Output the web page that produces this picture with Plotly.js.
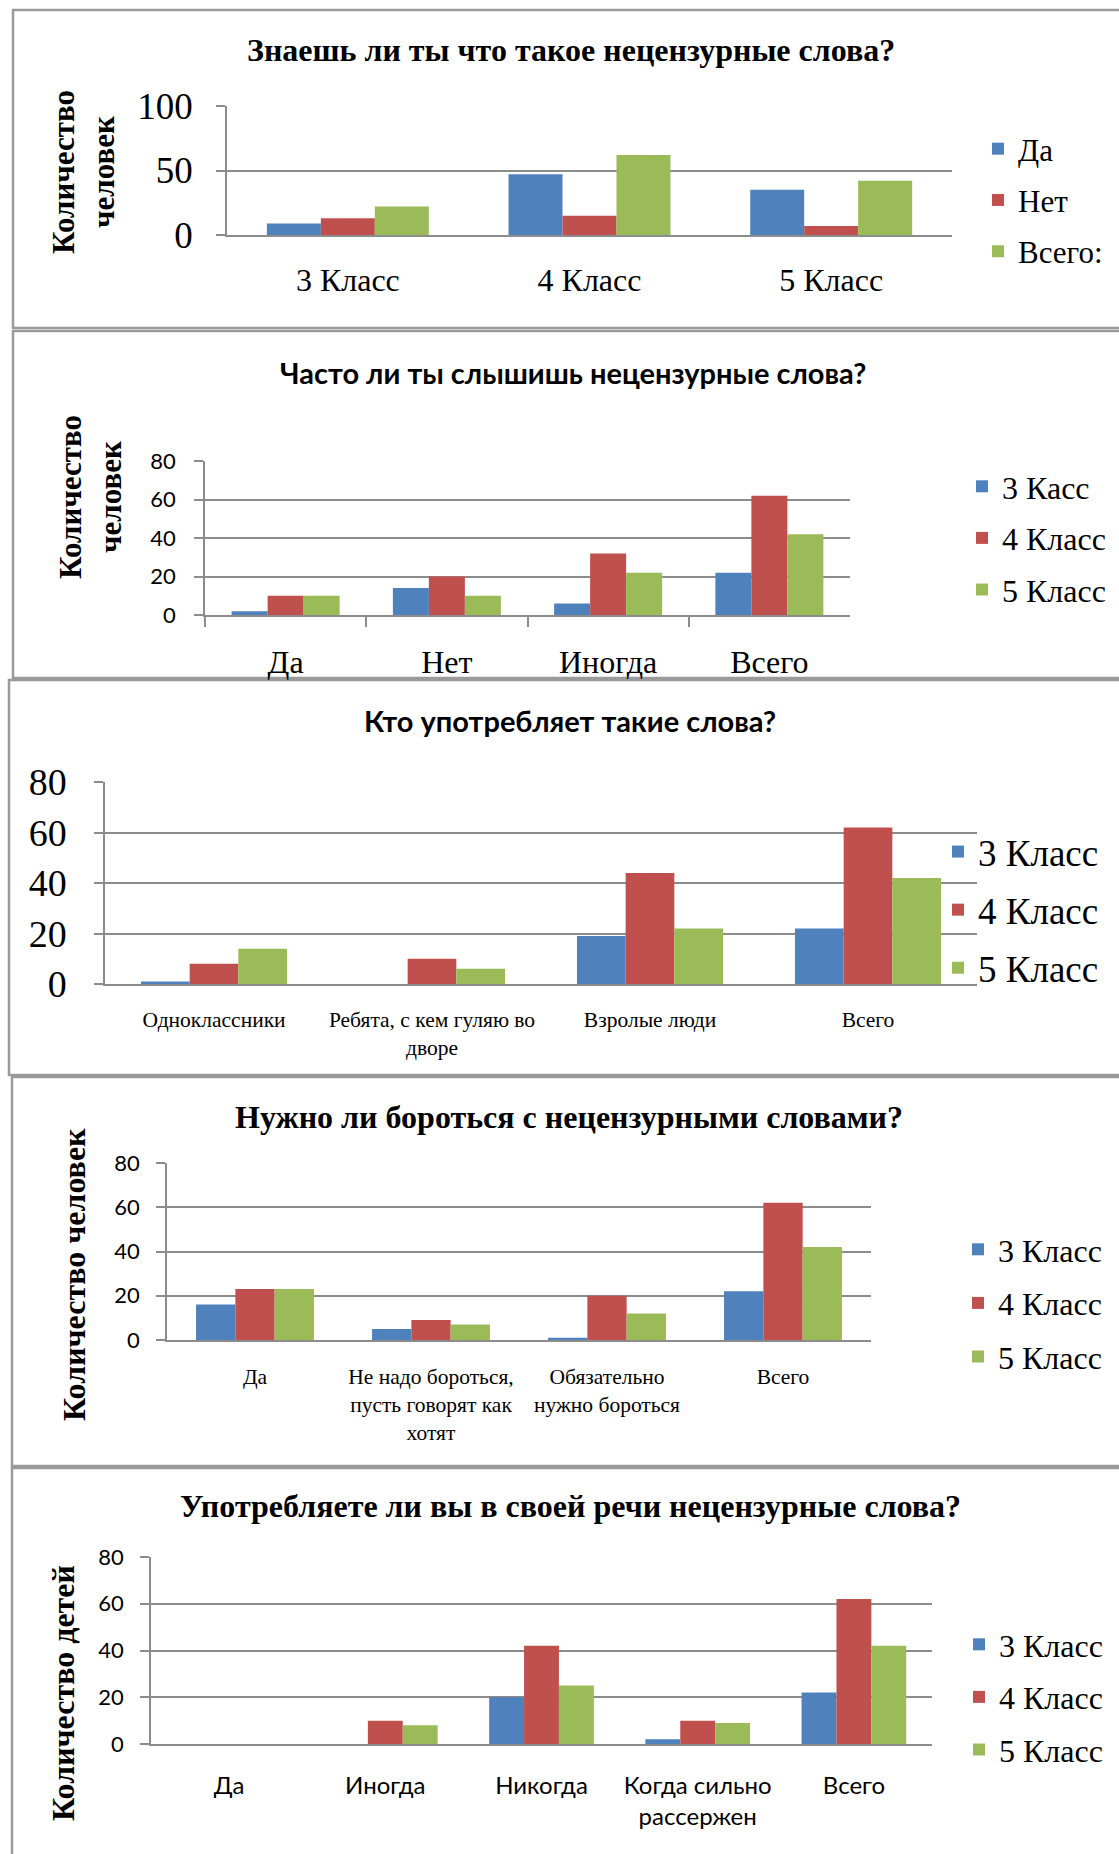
<!DOCTYPE html>
<html>
<head>
<meta charset="utf-8">
<script src="https://cdn.plot.ly/plotly-3.0.1.min.js"></script>
<style>
html,body{margin:0;padding:0;background:#fff;}
#chart{width:1119px;height:1854px;}
</style>
</head>
<body>
<div id="chart"></div>
<script>
// ---------- DATA ----------
// Chart 1
const q1Title = 'Знаешь ли ты что такое нецензурные слова?';
const q1Categories = ['3 Класс', '4 Класс', '5 Класс'];
const q1SeriesNames = ['Да', 'Нет', 'Всего:'];
const q1Yes = [9, 47, 35];
const q1No = [13, 15, 7];
const q1Total = [22, 62, 42];
const q1TickVals = [0, 50, 100];

// Chart 2
const q2Title = 'Часто ли ты слышишь нецензурные слова?';
const q2Categories = ['Да', 'Нет', 'Иногда', 'Всего'];
const q2SeriesNames = ['3 Касс', '4 Класс', '5 Класс'];
const q2Class3 = [2, 14, 6, 22];
const q2Class4 = [10, 20, 32, 62];
const q2Class5 = [10, 10, 22, 42];

// Chart 3
const q3Title = 'Кто употребляет такие слова?';
const q3Categories = ['Одноклассники', 'Ребята, с кем гуляю во дворе', 'Взролые люди', 'Всего'];
const q3TickText = ['Одноклассники', 'Ребята, с кем гуляю во<br>дворе', 'Взролые люди', 'Всего'];
const q3Class3 = [1, 0, 19, 22];
const q3Class4 = [8, 10, 44, 62];
const q3Class5 = [14, 6, 22, 42];

// Chart 4
const q4Title = 'Нужно ли бороться с нецензурными словами?';
const q4Categories = ['Да', 'Не надо бороться, пусть говорят как хотят', 'Обязательно нужно бороться', 'Всего'];
const q4TickText = ['Да', 'Не надо бороться,<br>пусть говорят как<br>хотят', 'Обязательно<br>нужно бороться', 'Всего'];
const q4Class3 = [16, 5, 1, 22];
const q4Class4 = [23, 9, 20, 62];
const q4Class5 = [23, 7, 12, 42];

// Chart 5
const q5Title = 'Употребляете ли вы в своей речи нецензурные слова?';
const q5Categories = ['Да', 'Иногда', 'Никогда', 'Когда сильно рассержен', 'Всего'];
const q5TickText = ['Да', 'Иногда', 'Никогда', 'Когда сильно<br>рассержен', 'Всего'];
const q5Class3 = [0, 0, 20, 2, 22];
const q5Class4 = [0, 10, 42, 10, 62];
const q5Class5 = [0, 8, 25, 9, 42];

const classNames = ['3 Класс', '4 Класс', '5 Класс'];
const yTitlePeople = 'Количество<br>человек';
const yTitlePeopleOneLine = 'Количество человек';
const yTitleKids = 'Количество детей';
const gridTicks80 = [0, 20, 40, 60, 80];

// ---------- STYLE ----------
const W = 1119, H = 1854;
const COLORS = ['#4F81BD', '#C0504D', '#9BBB59'];
const SERIF = 'Liberation Serif, Times New Roman, serif';
const SANS = 'Lato, Liberation Sans, sans-serif';
const GRID = '#8c8c8c';
const px = v => v / W;
const py = v => 1 - v / H;

const traces = [];
function addSeries(cats, seriesList, names, axisIdx) {
  const sfx = axisIdx === 1 ? '' : String(axisIdx);
  seriesList.forEach((vals, i) => {
    traces.push({
      type: 'bar', x: cats, y: vals, name: names[i],
      marker: {color: COLORS[i], line: {width: 0}},
      xaxis: 'x' + sfx, yaxis: 'y' + sfx,
      legend: 'legend' + sfx,
      legendgroup: 'g' + axisIdx + '_' + i,
      hoverinfo: 'x+y+name'
    });
  });
}
addSeries(q1Categories, [q1Yes, q1No, q1Total], q1SeriesNames, 1);
addSeries(q2Categories, [q2Class3, q2Class4, q2Class5], q2SeriesNames, 2);
addSeries(q3Categories, [q3Class3, q3Class4, q3Class5], classNames, 3);
addSeries(q4Categories, [q4Class3, q4Class4, q4Class5], classNames, 4);
addSeries(q5Categories, [q5Class3, q5Class4, q5Class5], classNames, 5);

function xAxis(anchor, l, r, cats, ticktext, font, standoff, ticks) {
  return {
    domain: [px(l), px(r)], anchor: anchor, type: 'category',
    tickvals: cats, ticktext: ticktext || cats,
    showgrid: false, zeroline: false,
    showline: true, linecolor: GRID, linewidth: 2,
    ticks: ticks ? 'outside' : '', tickson: 'boundaries', ticklen: 10, tickcolor: GRID, tickwidth: 1.5,
    tickfont: font, ticklabelstandoff: standoff, tickangle: 0,
    fixedrange: true
  };
}
function yAxis(anchor, top, bottom, range, tickvals, font, standoff) {
  return {
    domain: [py(bottom), py(top)], anchor: anchor, range: range,
    tickvals: tickvals, showgrid: true, gridcolor: GRID, gridwidth: 2,
    zeroline: false, showline: true, linecolor: GRID, linewidth: 1.5,
    ticks: 'outside', ticklen: 9, tickcolor: GRID, tickwidth: 2,
    tickfont: font, ticklabelstandoff: standoff, fixedrange: true
  };
}
function legend(xLeft, yMid, size, gap) {
  return {
    x: px(xLeft), xanchor: 'left', y: py(yMid), yanchor: 'middle',
    font: {family: SERIF, size: size, color: '#000'},
    bgcolor: 'rgba(0,0,0,0)', borderwidth: 0,
    traceorder: 'grouped', tracegroupgap: gap
  };
}
function title(text, x, y, fam, size) {
  return {text: '<b>' + text + '</b>', x: px(x), y: py(y), xref: 'paper', yref: 'paper',
    xanchor: 'center', yanchor: 'middle', showarrow: false,
    font: {family: fam, size: size, color: '#000'}};
}
function yTitle(text, x, y, size) {
  return {text: '<b>' + text + '</b>', x: px(x), y: py(y), xref: 'paper', yref: 'paper',
    xanchor: 'center', yanchor: 'middle', showarrow: false, textangle: -90,
    font: {family: SERIF, size: size, color: '#000'}};
}
function frame(x0, y0, y1) {
  return {type: 'rect', xref: 'paper', yref: 'paper', x0: px(x0), x1: px(1130),
    y0: py(y1), y1: py(y0), line: {color: '#9a9a9a', width: 2.5}, fillcolor: 'rgba(0,0,0,0)', layer: 'below'};
}

const layout = {
  width: W, height: H, margin: {l: 0, r: 0, t: 0, b: 0},
  paper_bgcolor: '#fff', plot_bgcolor: '#fff',
  barmode: 'group', bargap: 0.33, bargroupgap: 0,
  showlegend: true, hovermode: 'closest',
  xaxis:  xAxis('y',  227, 952, q1Categories, null, {family: SERIF, size: 32, color: '#000'}, 16, false),
  yaxis:  yAxis('x',  106, 235, [0, 100], q1TickVals, {family: SERIF, size: 37, color: '#000'}, 16),
  xaxis2: xAxis('y2', 205, 850, q2Categories, null, {family: SERIF, size: 32, color: '#000'}, 18, true),
  yaxis2: yAxis('x2', 461, 615, [0, 80], gridTicks80, {family: SANS, size: 22, color: '#000'}, 14),
  xaxis3: xAxis('y3', 105, 977, q3Categories, q3TickText, {family: SERIF, size: 21.5, color: '#000'}, 15, false),
  yaxis3: yAxis('x3', 782, 984, [0, 80], gridTicks80, {family: SERIF, size: 38, color: '#000'}, 20),
  xaxis4: xAxis('y4', 167, 871, q4Categories, q4TickText, {family: SERIF, size: 21.5, color: '#000'}, 16, false),
  yaxis4: yAxis('x4', 1163, 1340, [0, 80], gridTicks80, {family: SANS, size: 22, color: '#000'}, 12),
  xaxis5: xAxis('y5', 151, 932, q5Categories, q5TickText, {family: SANS, size: 24, color: '#000'}, 19, false),
  yaxis5: yAxis('x5', 1557, 1744, [0, 80], gridTicks80, {family: SANS, size: 22, color: '#000'}, 12),
  legend:  legend(978, 200, 31, 8),
  legend2: legend(962, 538, 32, 7),
  legend3: legend(938, 910, 37, 7),
  legend4: legend(958, 1303, 32, 9),
  legend5: legend(959, 1697, 32, 8),
  annotations: [
    title(q1Title, 571, 50, SERIF, 32),
    title(q2Title, 573, 372, SANS, 29),
    title(q3Title, 570, 721, SANS, 29),
    title(q4Title, 569, 1117, SERIF, 32),
    title(q5Title, 570, 1506, SERIF, 32),
    yTitle(yTitlePeople, 84, 172, 31),
    yTitle(yTitlePeople, 90, 497, 31),
    yTitle(yTitlePeopleOneLine, 74, 1274, 32),
    yTitle(yTitleKids, 63, 1693, 32)
  ],
  shapes: [
    frame(13, 10, 328),
    frame(13, 331, 678),
    frame(9, 680, 1075),
    frame(12, 1077, 1466),
    frame(12, 1468, 1870)
  ]
};

Plotly.newPlot('chart', traces, layout, {displayModeBar: false, staticPlot: false});
</script>
</body>
</html>
